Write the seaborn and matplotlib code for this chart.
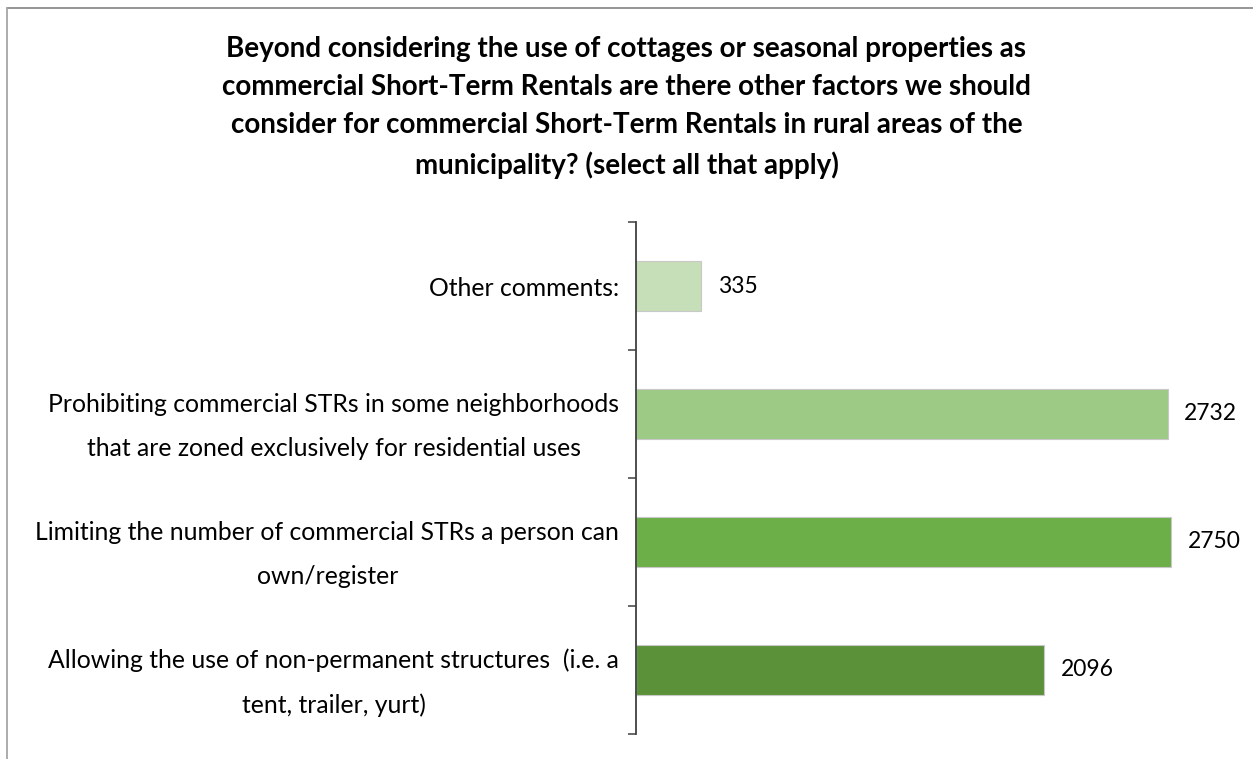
import matplotlib
matplotlib.use("Agg")
import matplotlib.pyplot as plt
import seaborn as sns
import pandas as pd
from matplotlib.lines import Line2D

categories = [
    "Other comments:",
    "Prohibiting commercial STRs in some neighborhoods\nthat are zoned exclusively for residential uses",
    "Limiting the number of commercial STRs a person can\nown/register",
    "Allowing the use of non-permanent structures  (i.e. a\ntent, trailer, yurt)",
]
values = [335, 2732, 2750, 2096]
bar_colors = ["#c6dfb8", "#9dca84", "#6cae47", "#5b9138"]
title = ("Beyond considering the use of cottages or seasonal properties as\n"
         "commercial Short-Term Rentals are there other factors we should\n"
         "consider for commercial Short-Term Rentals in rural areas of the\n"
         "municipality? (select all that apply)")

sns.set_theme(style="white")
plt.rcParams['font.family'] = ['Lato', 'DejaVu Sans']

df = pd.DataFrame({"category": categories, "value": values})

fig = plt.figure(figsize=(12.53, 7.59), dpi=100)
ax = fig.add_axes([0.5076, 0.033, 0.466, 0.6745])

sns.barplot(data=df, y="category", x="value", hue="category", palette=bar_colors,
            legend=False, width=0.39, ax=ax, edgecolor="#c8c8c8", linewidth=0.8,
            orient="h", saturation=1)

ax.set_xlim(0, 3000)
ax.set_ylim(3.5, -0.5)
ax.set_xlabel("")
ax.set_ylabel("")
ax.xaxis.set_visible(False)
for s in ["top", "right", "bottom"]:
    ax.spines[s].set_visible(False)
ax.spines["left"].set_color("#404040")
ax.spines["left"].set_linewidth(1.3)

ax.set_yticks(range(len(categories)))
ax.set_yticklabels(categories, fontsize=17.8, color="black", multialignment="center",
                   linespacing=2.1)
ax.tick_params(axis="y", which="major", length=0, pad=12)
ax.set_yticks([-0.5, 0.5, 1.5, 2.5, 3.5], minor=True)
ax.tick_params(axis="y", which="minor", length=6, width=1.1, color="#404040", left=True, direction="out")

for i, v in enumerate(values):
    ax.text(v + 85, i, str(v), va="center", ha="left", fontsize=16.5, color="black")

fig.text(0.5, 0.952, title, ha="center", va="top", fontsize=20, fontweight="bold",
         color="black", linespacing=1.57)

# outer chart border (top and left visible)
fig.add_artist(Line2D([0.0055, 1.0], [0.989, 0.989], transform=fig.transFigure, color="#8c8c8c", lw=1.3))
fig.add_artist(Line2D([0.0055, 0.0055], [0.0, 0.989], transform=fig.transFigure, color="#a6a6a6", lw=1.3))

fig.savefig("out.png", dpi=100)
